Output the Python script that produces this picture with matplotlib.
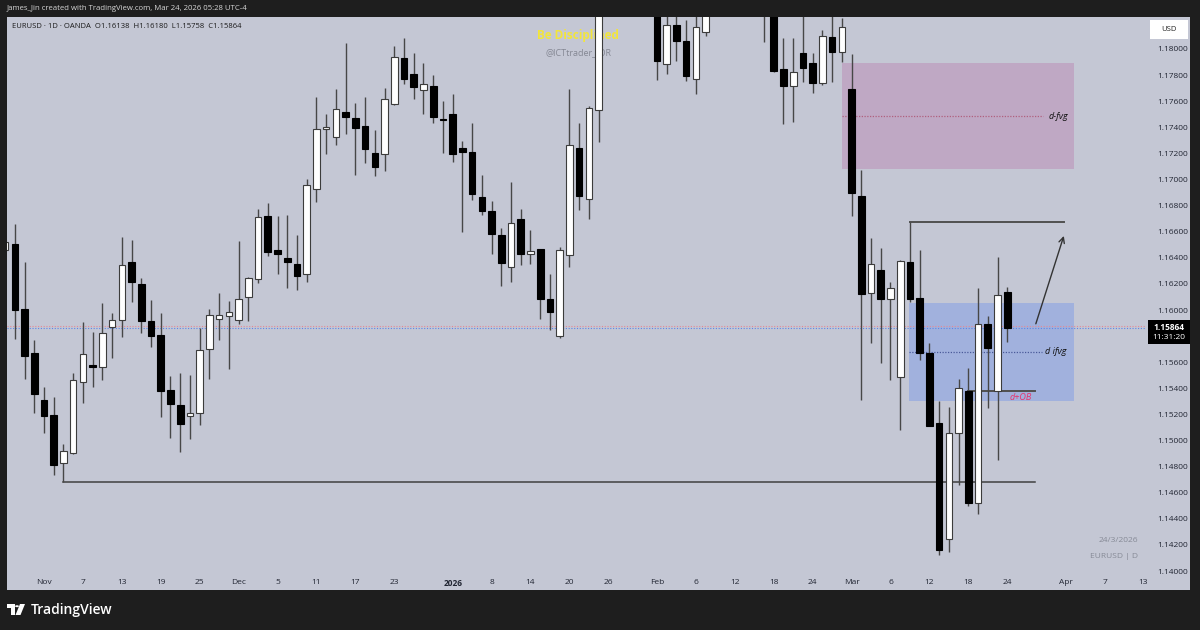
import matplotlib.pyplot as plt
import numpy as np
from matplotlib.patches import Rectangle, Polygon, Circle

plt.rcParams['font.family'] = ['Open Sans', 'DejaVu Sans']

W, H = 1200, 630
PANEL = '#c4c7d4'
DARK = '#1e1e1e'

# daily OHLC, bar index -4 (Oct 28) .. 99 (Mar 24)
opens = [1.16456, 1.16506, 1.16007, 1.15667, 1.15310, 1.15195, 1.14824, 1.14907, 1.15447, 1.15579,
         1.15560, 1.15867, 1.15927, 1.16369, 1.16196, 1.15919, 1.15812, 1.15384, 1.15269, 1.15189,
         1.15214, 1.15699, 1.15933, 1.15957, 1.15927, 1.16097, 1.16234, 1.16717, 1.16462, 1.16402,
         1.16352, 1.16275, 1.16926, 1.17389, 1.17329, 1.17521, 1.17474, 1.17411, 1.17203, 1.17194,
         1.17581, 1.17929, 1.17806, 1.17683, 1.17716, 1.17466, 1.17504, 1.17238, 1.17208, 1.16865,
         1.16755, 1.16577, 1.16330, 1.16695, 1.16432, 1.16467, 1.16083, 1.15804, 1.16424, 1.17244,
         1.16851, 1.17529, 1.18350, 1.18800, 1.19500, 1.19600, 1.19700, 1.18700, 1.17883, 1.18185,
         1.18058, 1.17773, 1.18127, 1.18600, 1.18700, 1.18800, 1.18700, 1.18500, 1.18600, 1.18350,
         1.17847, 1.17716, 1.17967, 1.17895, 1.17737, 1.18094, 1.17975, 1.17691, 1.16874, 1.16133,
         1.16304, 1.16087, 1.15489, 1.16370, 1.16094, 1.15668, 1.15132, 1.14243, 1.15060, 1.15382,
         1.14519, 1.15890, 1.15382, 1.16138]
highs = [1.16600, 1.16660, 1.16371, 1.15771, 1.15411, 1.15332, 1.14975, 1.15521, 1.15908, 1.15831,
         1.16056, 1.15974, 1.16563, 1.16536, 1.16245, 1.16075, 1.15974, 1.15496, 1.15521, 1.15502,
         1.15859, 1.16009, 1.16133, 1.16072, 1.16525, 1.16256, 1.16777, 1.16819, 1.16720, 1.16728,
         1.16572, 1.17000, 1.17631, 1.17502, 1.17691, 1.18045, 1.17584, 1.17631, 1.17381, 1.17699,
         1.18023, 1.18083, 1.17971, 1.17894, 1.17801, 1.17600, 1.17655, 1.17293, 1.17433, 1.17035,
         1.16832, 1.16627, 1.16983, 1.16777, 1.16616, 1.16470, 1.16278, 1.16484, 1.17691, 1.17430,
         1.17567, 1.18350, 1.19000, 1.19600, 1.20800, 1.19900, 1.19800, 1.18800, 1.18320, 1.18280,
         1.18223, 1.18300, 1.18800, 1.18900, 1.19000, 1.18900, 1.18800, 1.18700, 1.18700, 1.18450,
         1.18082, 1.18082, 1.18300, 1.17967, 1.18146, 1.18300, 1.18235, 1.17962, 1.17073, 1.16549,
         1.16473, 1.16212, 1.16383, 1.16677, 1.16460, 1.15749, 1.15305, 1.15254, 1.15469, 1.15558,
         1.16166, 1.15956, 1.16404, 1.16180]
lows = [1.16400, 1.15776, 1.15469, 1.15214, 1.15055, 1.14734, 1.14685, 1.14900, 1.15291, 1.15409,
        1.15466, 1.15631, 1.15790, 1.16059, 1.15820, 1.15716, 1.15178, 1.15022, 1.14912, 1.15014,
        1.15118, 1.15469, 1.15768, 1.15551, 1.15894, 1.15913, 1.16210, 1.16413, 1.16278, 1.16166,
        1.16152, 1.16215, 1.16824, 1.17194, 1.17268, 1.17348, 1.17033, 1.17126, 1.17027, 1.17065,
        1.17573, 1.17729, 1.17617, 1.17499, 1.17436, 1.17203, 1.17134, 1.16594, 1.16841, 1.16728,
        1.16426, 1.16182, 1.16215, 1.16347, 1.16352, 1.15933, 1.15850, 1.15784, 1.16330, 1.16764,
        1.16701, 1.17288, 1.18450, 1.18600, 1.19400, 1.19000, 1.18500, 1.17765, 1.17806, 1.17910,
        1.17757, 1.17658, 1.18102, 1.18500, 1.18550, 1.18500, 1.18400, 1.18350, 1.18056, 1.17826,
        1.17425, 1.17438, 1.17749, 1.17665, 1.17724, 1.17745, 1.17898, 1.16723, 1.15310, 1.15749,
        1.15596, 1.15464, 1.15080, 1.16061, 1.15617, 1.15111, 1.14123, 1.14148, 1.14659, 1.14498,
        1.14434, 1.15247, 1.14851, 1.15758]
closes = [1.16522, 1.16001, 1.15645, 1.15359, 1.15184, 1.14816, 1.14918, 1.15464, 1.15661, 1.15565,
          1.15823, 1.15927, 1.16347, 1.16218, 1.15916, 1.15804, 1.15378, 1.15277, 1.15123, 1.15208,
          1.15691, 1.15960, 1.15960, 1.15985, 1.16086, 1.16248, 1.16709, 1.16443, 1.16432, 1.16369,
          1.16264, 1.16961, 1.17386, 1.17406, 1.17540, 1.17480, 1.17397, 1.17233, 1.17093, 1.17620,
          1.17935, 1.17770, 1.17707, 1.17729, 1.17477, 1.17458, 1.17192, 1.17214, 1.16887, 1.16755,
          1.16583, 1.16358, 1.16668, 1.16426, 1.16451, 1.16086, 1.15982, 1.16456, 1.17268, 1.16873,
          1.17551, 1.18300, 1.18800, 1.19500, 1.19600, 1.19700, 1.18700, 1.17908, 1.18185, 1.18058,
          1.17792, 1.18168, 1.18600, 1.18700, 1.18800, 1.18700, 1.18500, 1.18600, 1.18350, 1.17834,
          1.17716, 1.17821, 1.17857, 1.17737, 1.18102, 1.17979, 1.18171, 1.16899, 1.16123, 1.16355,
          1.16087, 1.16169, 1.16375, 1.16082, 1.15673, 1.15111, 1.14161, 1.15055, 1.15400, 1.14519,
          1.15893, 1.15711, 1.16113, 1.15864]

# time axis (bar index -> label)
tick_pos = [0, 4, 8, 12, 16, 20, 24, 28, 32, 36, 42, 46, 50, 54, 58, 63, 67, 71, 75, 79,
            83, 87, 91, 95, 99, 105, 109, 113]
tick_lab = ['Nov', '7', '13', '19', '25', 'Dec', '5', '11', '17', '23', '2026', '8', '14', '20', '26',
            'Feb', '6', '12', '18', '24', 'Mar', '6', '12', '18', '24', 'Apr', '7', '13']
price_ticks = [1.140, 1.142, 1.144, 1.146, 1.148, 1.150, 1.152, 1.154, 1.156,
               1.160, 1.162, 1.164, 1.166, 1.168, 1.170, 1.172, 1.174, 1.176, 1.178, 1.180]

# drawings
fvg_top, fvg_bot = 1.17890, 1.17078
ifvg_top, ifvg_bot = 1.16056, 1.15305
ob_level = 1.15382
swing_high = 1.16677
swing_low = 1.14685
last_price = 1.15864


def fx(px):
    return px / W


def fy(py):
    return 1 - py / H


fig = plt.figure(figsize=(12, 6.3), dpi=100)
fig.patch.set_facecolor(DARK)
fig.add_artist(Rectangle((fx(7), fy(590)), fx(1190) - fx(7), fy(17) - fy(590),
                         transform=fig.transFigure, facecolor=PANEL, edgecolor='none', zorder=-1))

ax = fig.add_axes([fx(7), fy(573), fx(1146) - fx(7), fy(17) - fy(573)])
ax.set_facecolor('none')
ax.set_xlim(-3.803, 113.26)
ax.set_ylim(1.139847, 1.182452)
for s in ax.spines.values():
    s.set_visible(False)

idx = np.arange(-4, 100)
o, h, l, c = map(np.array, (opens, highs, lows, closes))
up = c >= o
ax.vlines(idx, l, h, color='#474747', lw=1, zorder=3)
body_lo = np.minimum(o, c)
body_h = np.maximum(np.abs(c - o), 0.00005)
ax.bar(idx[up], body_h[up], 0.68, bottom=body_lo[up], color='white', edgecolor='#3c3c3c', lw=0.8, zorder=4)
ax.bar(idx[~up], body_h[~up], 0.68, bottom=body_lo[~up], color='black', edgecolor='black', lw=0.8, zorder=4)

# zones
ax.add_patch(Rectangle((81.98, fvg_bot), 105.86 - 81.98, fvg_top - fvg_bot,
                       facecolor='#bfa8c4', edgecolor='none', zorder=1))
ax.plot([81.98, 102.7], [(fvg_top + fvg_bot) / 2] * 2, ls=(0, (1, 1.2)), color='#b0607e', lw=0.9, zorder=2)
ax.text(103.2, (fvg_top + fvg_bot) / 2, 'd-fvg', style='italic', fontsize=6.5, color='#111111',
        va='center', ha='left', zorder=5)

ax.add_patch(Rectangle((88.93, ifvg_bot), 105.86 - 88.93, ifvg_top - ifvg_bot,
                       facecolor='#a1b1dd', edgecolor='none', zorder=1))
ax.plot([88.93, 102.6], [(ifvg_top + ifvg_bot) / 2] * 2, ls=(0, (1, 1.2)), color='#4a5a9a', lw=0.9, zorder=2)
ax.text(102.9, (ifvg_top + ifvg_bot) / 2, 'd ifvg', style='italic', fontsize=6.5, color='#111111',
        va='center', ha='left', zorder=5)

ax.plot([95, 101.85], [ob_level, ob_level], color='#505050', lw=1.4, zorder=2)
ax.text(100.4, ob_level - 0.00055, 'd+OB', style='italic', fontsize=6.5, color='#e8336b',
        va='center', ha='center', zorder=5)

ax.plot([89, 104.83], [swing_high, swing_high], color='#505050', lw=1.4, zorder=2)
ax.plot([2, 101.85], [swing_low, swing_low], color='#404040', lw=1.1, zorder=2)
ax.annotate('', xy=(104.9, 1.16588), xytext=(101.85, 1.15874),
            arrowprops=dict(arrowstyle='->', color='#333333', lw=1, mutation_scale=10), zorder=5)

# last price lines
ax.plot([-3.803, 113.26], [last_price + 0.00015] * 2, ls=(0, (1, 1.5)), color='#e58a95', lw=0.8, zorder=2)
ax.plot([-3.803, 113.26], [last_price] * 2, ls=(0, (1, 1.5)), color='#5b86e8', lw=0.8, zorder=2)

# watermark (below candles)
ax.text(fx(578), fy(35), 'Be Disciplined', transform=fig.transFigure, fontsize=8.5, fontweight='bold',
        color='#f2e53c', ha='center', va='center', zorder=1)
ax.text(fx(578), fy(53), '@ICTtrader_JOR', transform=fig.transFigure, fontsize=6.5,
        color='#858894', ha='center', va='center', zorder=1)

# axes ticks
ax.set_xticks(tick_pos)
ax.set_xticklabels(tick_lab)
ax.tick_params(axis='x', length=0, pad=4, labelsize=6, labelcolor='#222633')
for t in ax.get_xticklabels():
    if t.get_text() == '2026':
        t.set_fontweight('bold')
ax.yaxis.tick_right()
ax.set_yticks(price_ticks)
ax.set_yticklabels(['%.5f' % p for p in price_ticks])
ax.tick_params(axis='y', length=0, pad=8, labelsize=6, labelcolor='#222633')

# header texts
fig.text(fx(7), fy(9), 'James_Jin created with TradingView.com, Mar 24, 2026 05:28 UTC-4',
         fontsize=5.6, color='#d6d6d6', va='center', ha='left')
fig.text(fx(12), fy(27), 'EURUSD \u00b7 1D \u00b7 OANDA  O1.16138  H1.16180  L1.15758  C1.15864',
         fontsize=5.5, color='#1a1a1a', va='center', ha='left')

# USD box
fig.add_artist(Rectangle((fx(1150), fy(39)), fx(1188) - fx(1150), fy(20) - fy(39),
                         transform=fig.transFigure, facecolor='white', edgecolor='none', zorder=3))
fig.text(fx(1169), fy(29.5), 'USD', fontsize=5.5, color='#222222', ha='center', va='center', zorder=4)

# last price label
fig.add_artist(Rectangle((fx(1148), fy(344)), fx(1190) - fx(1148), fy(320) - fy(344),
                         transform=fig.transFigure, facecolor='black', edgecolor='none', zorder=3))
fig.text(fx(1169), fy(327), '1.15864', fontsize=6, fontweight='bold', color='white',
         ha='center', va='center', zorder=4)
fig.text(fx(1169), fy(337.5), '11:31:20', fontsize=6, color='white', ha='center', va='center', zorder=4)

# bottom right info
fig.text(fx(1138), fy(541), '24/3/2026', fontsize=6, color='#868a96', ha='right', va='center')
fig.text(fx(1138), fy(557), 'EURUSD | D', fontsize=6, color='#868a96', ha='right', va='center')

# TradingView logo
fig.add_artist(Polygon([(fx(7), fy(604)), (fx(14.5), fy(604)), (fx(14.5), fy(615)), (fx(10.5), fy(615)),
                        (fx(10.5), fy(608)), (fx(7), fy(608))], closed=True,
                       transform=fig.transFigure, facecolor='white', edgecolor='none'))
fig.add_artist(Circle((fx(17), fy(606.2)), 1.9 / W, transform=fig.transFigure,
                      facecolor='white', edgecolor='none'))
fig.add_artist(Polygon([(fx(20), fy(604)), (fx(25), fy(604)), (fx(20.5), fy(615)), (fx(15.5), fy(615))],
                       closed=True, transform=fig.transFigure, facecolor='white', edgecolor='none'))
fig.text(fx(31), fy(610), 'TradingView', fontsize=10, fontweight='semibold', color='white',
         ha='left', va='center')

fig.savefig('out.png', dpi=100, facecolor=DARK)
